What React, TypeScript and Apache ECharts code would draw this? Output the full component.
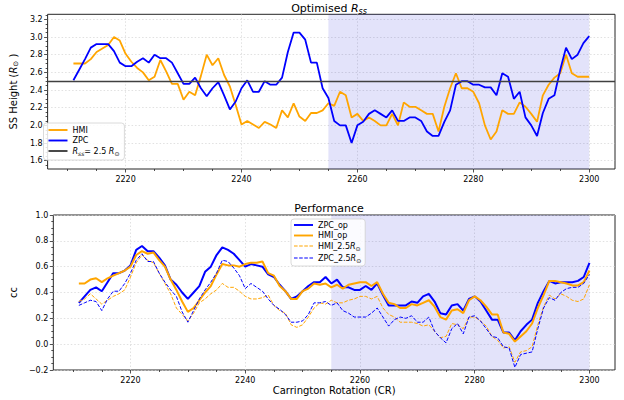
import React, { useEffect, useRef } from 'react';
import * as echarts from 'echarts';

// Carrington rotations
const CR = [
  2211, 2212, 2213, 2214, 2215, 2216, 2217, 2218, 2219, 2220,
  2221, 2222, 2223, 2224, 2225, 2226, 2227, 2228, 2229, 2230,
  2231, 2232, 2233, 2234, 2235, 2236, 2237, 2238, 2239, 2240,
  2241, 2242, 2243, 2244, 2245, 2246, 2247, 2248, 2249, 2250,
  2251, 2252, 2253, 2254, 2255, 2256, 2257, 2258, 2259, 2260,
  2261, 2262, 2263, 2264, 2265, 2266, 2267, 2268, 2269, 2270,
  2271, 2272, 2273, 2274, 2275, 2276, 2277, 2278, 2279, 2280,
  2281, 2282, 2283, 2284, 2285, 2286, 2287, 2288, 2289, 2290,
  2291, 2292, 2293, 2294, 2295, 2296, 2297, 2298, 2299, 2300,
];

// Optimised source-surface height
const HMI_RSS = [
  2.70, 2.70, 2.70, 2.75, 2.83, 2.87, 2.91, 3.00, 2.96, 2.81,
  2.72, 2.65, 2.60, 2.51, 2.55, 2.74, 2.61, 2.47, 2.47, 2.29,
  2.38, 2.34, 2.56, 2.80, 2.68, 2.76, 2.57, 2.44, 2.23, 2.01,
  2.05, 2.01, 1.97, 2.04, 2.01, 1.97, 2.17, 2.09, 2.25, 2.10,
  2.05, 2.14, 2.14, 2.17, 2.25, 2.22, 2.38, 2.34, 2.09, 2.13,
  2.05, 2.09, 2.05, 2.00, 2.00, 2.13, 2.00, 2.26, 2.21, 2.21,
  2.17, 2.13, 2.13, 1.93, 2.21, 2.42, 2.59, 2.42, 2.42, 2.38,
  2.25, 2.00, 1.84, 1.93, 2.17, 2.13, 2.13, 2.26, 2.21, 2.13,
  2.04, 2.34, 2.46, 2.54, 2.59, 2.80, 2.59, 2.55, 2.55, 2.55,
];
const ZPC_RSS = [
  2.51, 2.63, 2.75, 2.88, 2.92, 2.92, 2.92, 2.84, 2.71, 2.67,
  2.67, 2.72, 2.76, 2.71, 2.80, 2.76, 2.76, 2.71, 2.59, 2.47,
  2.47, 2.54, 2.42, 2.33, 2.42, 2.49, 2.34, 2.18, 2.27, 2.42,
  2.51, 2.38, 2.38, 2.50, 2.46, 2.46, 2.54, 2.83, 3.05, 3.05,
  2.97, 2.71, 2.71, 2.42, 2.31, 2.05, 2.00, 2.00, 1.80, 2.00,
  2.04, 2.13, 2.17, 2.13, 2.09, 2.17, 2.05, 2.05, 2.09, 2.09,
  2.05, 1.93, 1.88, 1.88, 2.04, 2.17, 2.46, 2.50, 2.50, 2.46,
  2.46, 2.43, 2.43, 2.34, 2.59, 2.55, 2.30, 2.38, 2.09, 2.00,
  1.88, 2.14, 2.30, 2.34, 2.63, 2.88, 2.75, 2.80, 2.93, 3.01,
];
const RSS_REF = 2.5;

// Performance (cc)
const ZPC_OP = [
  0.32, 0.37, 0.42, 0.44, 0.41, 0.48, 0.55, 0.55, 0.57, 0.61,
  0.73, 0.76, 0.72, 0.72, 0.67, 0.61, 0.50, 0.46, 0.40, 0.35,
  0.40, 0.45, 0.56, 0.60, 0.69, 0.75, 0.73, 0.70, 0.65, 0.60,
  0.62, 0.61, 0.60, 0.54, 0.52, 0.46, 0.41, 0.35, 0.37, 0.41,
  0.45, 0.48, 0.48, 0.52, 0.47, 0.50, 0.44, 0.44, 0.42, 0.42,
  0.45, 0.42, 0.47, 0.38, 0.30, 0.30, 0.30, 0.30, 0.33, 0.32,
  0.37, 0.39, 0.33, 0.24, 0.23, 0.30, 0.31, 0.26, 0.35, 0.37,
  0.33, 0.26, 0.19, 0.19, 0.09, 0.09, 0.03, 0.10, 0.15, 0.19,
  0.32, 0.41, 0.49, 0.47, 0.48, 0.48, 0.48, 0.49, 0.52, 0.63,
];
const HMI_OP = [
  0.47, 0.47, 0.50, 0.51, 0.48, 0.51, 0.53, 0.55, 0.57, 0.60,
  0.69, 0.72, 0.70, 0.71, 0.65, 0.60, 0.50, 0.42, 0.33, 0.25,
  0.28, 0.34, 0.40, 0.45, 0.54, 0.62, 0.61, 0.61, 0.60, 0.62,
  0.63, 0.63, 0.64, 0.55, 0.53, 0.45, 0.41, 0.35, 0.35, 0.41,
  0.43, 0.47, 0.46, 0.47, 0.44, 0.46, 0.43, 0.46, 0.47, 0.48,
  0.48, 0.45, 0.48, 0.39, 0.32, 0.31, 0.28, 0.28, 0.31, 0.30,
  0.32, 0.34, 0.29, 0.21, 0.19, 0.26, 0.27, 0.24, 0.34, 0.37,
  0.34, 0.29, 0.23, 0.23, 0.09, 0.08, 0.02, 0.06, 0.10, 0.16,
  0.28, 0.38, 0.49, 0.49, 0.48, 0.47, 0.455, 0.455, 0.48, 0.57,
];
const HMI_25 = [
  0.33, 0.35, 0.39, 0.35, 0.31, 0.34, 0.37, 0.39, 0.42, 0.52,
  0.63, 0.69, 0.65, 0.63, 0.55, 0.47, 0.39, 0.28, 0.23, 0.18,
  0.24, 0.32, 0.35, 0.39, 0.42, 0.47, 0.44, 0.44, 0.41, 0.37,
  0.35, 0.35, 0.36, 0.38, 0.30, 0.26, 0.24, 0.15, 0.13, 0.15,
  0.21, 0.28, 0.32, 0.31, 0.34, 0.32, 0.32, 0.34, 0.35, 0.37,
  0.37, 0.35, 0.37, 0.28, 0.23, 0.21, 0.17, 0.17, 0.17, 0.16,
  0.14, 0.15, 0.10, 0.05, 0.06, 0.16, 0.15, 0.12, 0.21, 0.21,
  0.18, 0.14, 0.06, 0.03, -0.03, -0.02, -0.14, -0.06, -0.05, -0.02,
  0.15, 0.29, 0.38, 0.35, 0.39, 0.37, 0.34, 0.33, 0.35, 0.46,
];
const ZPC_25 = [
  0.30, 0.32, 0.34, 0.33, 0.26, 0.35, 0.41, 0.41, 0.47, 0.55,
  0.65, 0.70, 0.64, 0.64, 0.55, 0.48, 0.42, 0.37, 0.25, 0.17,
  0.26, 0.35, 0.42, 0.48, 0.55, 0.65, 0.64, 0.59, 0.53, 0.43,
  0.47, 0.44, 0.41, 0.35, 0.30, 0.27, 0.23, 0.17, 0.17, 0.18,
  0.23, 0.32, 0.32, 0.33, 0.30, 0.32, 0.26, 0.24, 0.21, 0.21,
  0.21, 0.24, 0.28, 0.21, 0.14, 0.19, 0.21, 0.20, 0.22, 0.17,
  0.17, 0.21, 0.10, 0.05, 0.01, 0.12, 0.16, 0.08, 0.21, 0.22,
  0.18, 0.12, 0.06, 0.05, -0.02, -0.03, -0.18, -0.08, -0.07, -0.06,
  0.12, 0.28, 0.36, 0.34, 0.40, 0.43, 0.44, 0.44, 0.47, 0.54,
];

// Highlighted interval
const SHADE_RANGE = [2255, 2300];

// Tick values
const X_MAJOR = [2220, 2240, 2260, 2280, 2300];
const X_MINOR = [2210, 2215, 2225, 2230, 2235, 2245, 2250, 2255, 2265, 2270, 2275, 2285, 2290, 2295];
const TOP_Y_MAJOR = [1.6, 1.8, 2.0, 2.2, 2.4, 2.6, 2.8, 3.0, 3.2];
const TOP_Y_MINOR = [1.55, 1.65, 1.7, 1.75, 1.85, 1.9, 1.95, 2.05, 2.1, 2.15, 2.25, 2.3, 2.35,
  2.45, 2.5, 2.55, 2.65, 2.7, 2.75, 2.85, 2.9, 2.95, 3.05, 3.1, 3.15, 3.25];

const ORANGE = '#ffa500';
const BLUE = '#0000ff';
const REF_GRAY = '#404040';
const FONT = 'DejaVu Sans';

export default function App() {
  const ref = useRef<HTMLDivElement>(null);

  useEffect(() => {
    if (!ref.current) return;
    const chart = echarts.init(ref.current, null, { renderer: 'svg' });
    const pair = (arr: number[]) => CR.map((c, i) => [c, arr[i]]);

    const xMin = 2206.55;
    const xMax = 2304.45;
    const tickLine = { color: '#262626', width: 0.8 };
    const gridLine = { show: true, lineStyle: { color: '#d4d4d4', type: [1.5, 2], width: 0.7 } };
    const tickLabel = { color: '#000', fontFamily: FONT, fontSize: 8 };
    const noLine = { show: false, onZero: false };

    const legendRich = {
      a: { fontFamily: FONT, fontSize: 8, lineHeight: 11, color: '#000' },
      i: { fontFamily: FONT, fontSize: 8, fontStyle: 'italic', lineHeight: 11, color: '#000' },
      s: { fontFamily: FONT, fontSize: 6, fontStyle: 'italic', lineHeight: 7, verticalAlign: 'bottom', color: '#000' },
      o: { fontFamily: FONT, fontSize: 6, lineHeight: 7, verticalAlign: 'bottom', color: '#000' },
    };
    const LEGEND_TEXT: Record<string, string> = {
      HMI: '{a|HMI}',
      ZPC: '{a|ZPC}',
      Rss: '{i|R}{s|ss}{a|= 2.5 }{i|R}{o|\u2299}',
      ZPC_op: '{a|ZPC_op}',
      HMI_op: '{a|HMI_op}',
      'HMI_2.5': '{a|HMI_2.5}{i|R}{o|\u2299}',
      'ZPC_2.5': '{a|ZPC_2.5}{i|R}{o|\u2299}',
    };
    const SOLID = 'path://M0,0H20V2H0Z';
    const DASHED = 'path://M0,0H3.7V1H0Z M5.3,0H9V1H5.3Z M10.6,0H14.3V1H10.6Z M15.9,0H19.6V1H15.9Z';

    const legendBase = {
      orient: 'vertical',
      itemWidth: 19,
      itemHeight: 2,
      itemGap: 2.5,
      selectedMode: false,
      backgroundColor: 'rgba(255,255,255,0.85)',
      borderColor: '#d0d0d0',
      borderWidth: 0.8,
      borderRadius: 3,
      itemStyle: { borderWidth: 0 },
      formatter: (name: string) => LEGEND_TEXT[name] || name,
      textStyle: { rich: legendRich, fontFamily: FONT, fontSize: 8 },
    };

    const titleRich = {
      a: { fontFamily: FONT, fontSize: 11, fontWeight: 'normal', lineHeight: 14, color: '#000' },
      i: { fontFamily: FONT, fontSize: 11, fontWeight: 'normal', fontStyle: 'italic', lineHeight: 14, color: '#000' },
      s: { fontFamily: FONT, fontSize: 8, fontWeight: 'normal', fontStyle: 'italic', lineHeight: 9, verticalAlign: 'bottom', color: '#000' },
    };
    const nameRich = {
      a: { fontFamily: FONT, fontSize: 10, lineHeight: 12, color: '#000' },
      i: { fontFamily: FONT, fontSize: 10, fontStyle: 'italic', lineHeight: 12, color: '#000' },
      o: { fontFamily: FONT, fontSize: 7, lineHeight: 8, verticalAlign: 'bottom', color: '#000' },
    };

    const mainX = (gridIndex: number, extra: any = {}) => ({
      gridIndex,
      type: 'value',
      min: xMin,
      max: xMax,
      position: 'bottom',
      axisLine: noLine,
      axisTick: { show: true, customValues: X_MAJOR, length: 3.5, lineStyle: tickLine },
      axisLabel: { ...tickLabel, customValues: X_MAJOR, margin: 6, formatter: (v: number) => String(Math.round(v)) },
      splitLine: gridLine,
      ...extra,
    });
    const minorX = (gridIndex: number) => ({
      gridIndex,
      type: 'value',
      min: xMin,
      max: xMax,
      position: 'bottom',
      axisLine: noLine,
      axisTick: { show: true, customValues: X_MINOR, length: 2, lineStyle: tickLine },
      axisLabel: { show: false },
      splitLine: { show: false },
    });

    const fmt = (v: number) => (v < -1e-9 ? '\u2212' + Math.abs(v).toFixed(1) : Math.abs(v).toFixed(1));

    const option: any = {
      animation: false,
      backgroundColor: '#fff',
      title: [
        {
          text: '{a|Optimised }{i|R}{s|ss}',
          left: 329,
          top: 1,
          textAlign: 'center',
          padding: 0,
          textStyle: { rich: titleRich, fontWeight: 'normal' },
        },
        {
          text: '{a|Performance}',
          left: 329,
          top: 201,
          textAlign: 'center',
          padding: 0,
          textStyle: { rich: titleRich, fontWeight: 'normal' },
        },
      ],
      legend: [
        {
          ...legendBase,
          left: 43.5,
          top: 123,
          padding: [3, 5, 3.5, 5],
          data: [
            { name: 'HMI', icon: SOLID },
            { name: 'ZPC', icon: SOLID },
            { name: 'Rss', icon: SOLID },
          ],
        },
        {
          ...legendBase,
          left: 291,
          top: 219,
          padding: [2, 4, 2.5, 3],
          data: [
            { name: 'ZPC_op', icon: SOLID },
            { name: 'HMI_op', icon: SOLID },
            { name: 'HMI_2.5', icon: DASHED },
            { name: 'ZPC_2.5', icon: DASHED },
          ],
        },
      ],
      grid: [
        { left: 42.7, right: 9, top: 14.3, height: 154.7, show: true, borderColor: '#262626', borderWidth: 1, backgroundColor: 'transparent' },
        { left: 42.7, right: 9, top: 215, height: 155, show: true, borderColor: '#262626', borderWidth: 1, backgroundColor: 'transparent' },
      ],
      xAxis: [
        mainX(0),
        minorX(0),
        mainX(1, {
          name: 'Carrington Rotation (CR)',
          nameLocation: 'middle',
          nameGap: 15,
          nameTextStyle: { fontFamily: FONT, fontSize: 10, color: '#000' },
        }),
        minorX(1),
      ],
      yAxis: [
        {
          gridIndex: 0,
          type: 'value',
          min: 1.506,
          max: 3.257,
          position: 'left',
          axisLine: noLine,
          axisTick: { show: true, customValues: TOP_Y_MAJOR, length: 3.5, lineStyle: tickLine },
          axisLabel: { ...tickLabel, customValues: TOP_Y_MAJOR, margin: 5, formatter: fmt },
          splitLine: gridLine,
          name: '{a|SS Height (}{i|R}{o|\u2299}{a| )}',
          nameLocation: 'middle',
          nameRotate: 90,
          nameGap: 22,
          nameTextStyle: { rich: nameRich, fontFamily: FONT, fontSize: 10, color: '#000' },
        },
        {
          gridIndex: 0,
          type: 'value',
          min: 1.506,
          max: 3.257,
          position: 'left',
          axisLine: noLine,
          axisTick: { show: true, customValues: TOP_Y_MINOR, length: 2, lineStyle: tickLine },
          axisLabel: { show: false },
          splitLine: { show: false },
        },
        {
          gridIndex: 1,
          type: 'value',
          min: -0.2,
          max: 1.0,
          interval: 0.2,
          position: 'left',
          axisLine: noLine,
          axisTick: { show: true, length: 3.5, lineStyle: tickLine },
          minorTick: { show: true, splitNumber: 4, length: 2, lineStyle: tickLine },
          axisLabel: { ...tickLabel, margin: 5, formatter: fmt },
          splitLine: gridLine,
          name: 'cc',
          nameLocation: 'middle',
          nameRotate: 90,
          nameGap: 27,
          nameTextStyle: { fontFamily: FONT, fontSize: 10, color: '#000' },
        },
      ],
      series: [
        {
          name: 'shadeTop',
          type: 'line',
          xAxisIndex: 0,
          yAxisIndex: 0,
          data: [],
          z: 1,
          silent: true,
          markArea: {
            silent: true,
            itemStyle: { color: 'rgba(40,40,220,0.13)' },
            data: [[{ xAxis: SHADE_RANGE[0] }, { xAxis: SHADE_RANGE[1] }]],
          },
        },
        {
          name: 'HMI',
          type: 'line',
          xAxisIndex: 0,
          yAxisIndex: 0,
          data: pair(HMI_RSS),
          symbol: 'none',
          color: ORANGE,
          lineStyle: { color: ORANGE, width: 1.8 },
          z: 3,
        },
        {
          name: 'ZPC',
          type: 'line',
          xAxisIndex: 0,
          yAxisIndex: 0,
          data: pair(ZPC_RSS),
          symbol: 'none',
          color: BLUE,
          lineStyle: { color: BLUE, width: 1.8 },
          z: 3,
        },
        {
          name: 'Rss',
          type: 'line',
          xAxisIndex: 0,
          yAxisIndex: 0,
          data: [],
          symbol: 'none',
          color: REF_GRAY,
          lineStyle: { color: REF_GRAY, width: 1.3 },
          z: 4,
          markLine: {
            silent: true,
            symbol: ['none', 'none'],
            label: { show: false },
            lineStyle: { color: REF_GRAY, width: 1.3, type: 'solid' },
            data: [{ yAxis: RSS_REF }],
          },
        },
        {
          name: 'shadeBottom',
          type: 'line',
          xAxisIndex: 2,
          yAxisIndex: 2,
          data: [],
          z: 1,
          silent: true,
          markArea: {
            silent: true,
            itemStyle: { color: 'rgba(40,40,220,0.13)' },
            data: [[{ xAxis: SHADE_RANGE[0] }, { xAxis: SHADE_RANGE[1] }]],
          },
        },
        {
          name: 'ZPC_op',
          type: 'line',
          xAxisIndex: 2,
          yAxisIndex: 2,
          data: pair(ZPC_OP),
          symbol: 'none',
          color: BLUE,
          lineStyle: { color: BLUE, width: 2 },
          z: 3,
        },
        {
          name: 'HMI_op',
          type: 'line',
          xAxisIndex: 2,
          yAxisIndex: 2,
          data: pair(HMI_OP),
          symbol: 'none',
          color: ORANGE,
          lineStyle: { color: ORANGE, width: 2 },
          z: 3,
        },
        {
          name: 'HMI_2.5',
          type: 'line',
          xAxisIndex: 2,
          yAxisIndex: 2,
          data: pair(HMI_25),
          symbol: 'none',
          color: ORANGE,
          lineStyle: { color: ORANGE, width: 1, type: [3.7, 1.6] },
          z: 3,
        },
        {
          name: 'ZPC_2.5',
          type: 'line',
          xAxisIndex: 2,
          yAxisIndex: 2,
          data: pair(ZPC_25),
          symbol: 'none',
          color: BLUE,
          lineStyle: { color: BLUE, width: 1, type: [3.7, 1.6] },
          z: 3,
        },
      ],
    };

    chart.setOption(option);
    return () => {
      chart.dispose();
    };
  }, []);

  return (
    <div
      ref={ref}
      style={{ position: 'fixed', left: 0, top: 0, width: 624, height: 400, background: '#fff' }}
    />
  );
}
